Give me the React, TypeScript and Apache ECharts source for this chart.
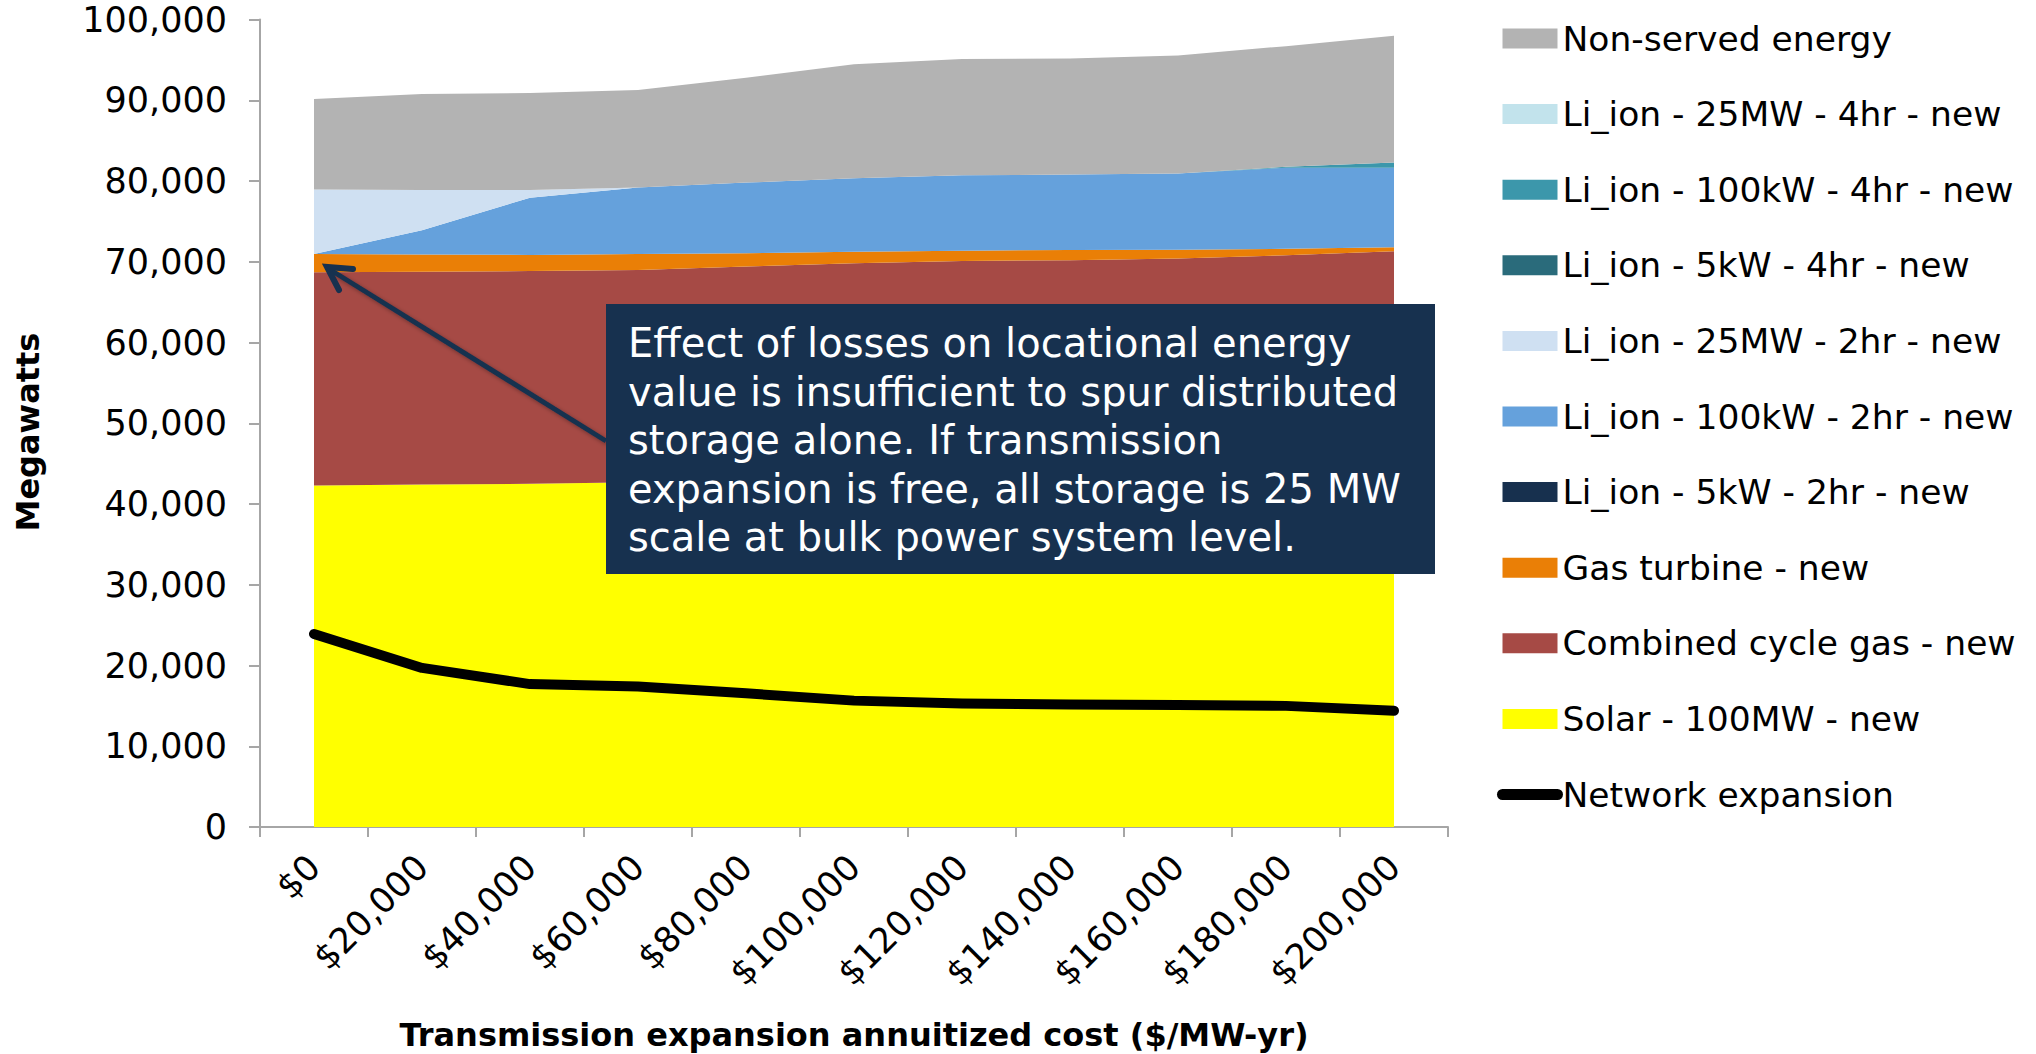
import React, { useEffect, useRef } from "react";
import * as echarts from "echarts";

const categories = ["$0", "$20,000", "$40,000", "$60,000", "$80,000", "$100,000", "$120,000", "$140,000", "$160,000", "$180,000", "$200,000"];
const yTicks = [0, 10000, 20000, 30000, 40000, 50000, 60000, 70000, 80000, 90000, 100000];

const solar = [42300, 42400, 42500, 42700, 43000, 43200, 43400, 43500, 43600, 43800, 44000];
const combinedCycle = [26400, 26370, 26350, 26280, 26400, 26600, 26700, 26700, 26800, 27000, 27300];
const gasTurbine = [2260, 2130, 2000, 1980, 1640, 1450, 1270, 1250, 1100, 800, 500];
const liIon5kW2hr = [0, 0, 0, 0, 0, 0, 0, 0, 0, 0, 0];
const liIon100kW2hr = [0, 3000, 7080, 8240, 8760, 9080, 9330, 9350, 9440, 10040, 9840];
const liIon25MW2hr = [7990, 5000, 970, 0, 0, 0, 0, 0, 0, 0, 0];
const liIon5kW4hr = [0, 0, 0, 0, 0, 0, 0, 0, 0, 0, 0];
const liIon100kW4hr = [0, 0, 0, 0, 0, 0, 0, 0, 0, 120, 660];
const liIon25MW4hr = [0, 0, 0, 0, 0, 0, 0, 0, 0, 0, 0];
const nonServed = [11200, 11870, 12000, 12070, 13000, 14120, 14400, 14370, 14610, 14940, 15700];
const networkExpansion = [23900, 19700, 17700, 17400, 16550, 15650, 15300, 15170, 15100, 15000, 14400];

const FONT = "DejaVu Sans";
const NAVY = "#17314f";

const stackSeries = [
  { name: "Solar - 100MW - new", data: solar, color: "#ffff00" },
  { name: "Combined cycle gas - new", data: combinedCycle, color: "#a64a45" },
  { name: "Gas turbine - new", data: gasTurbine, color: "#ea7f06" },
  { name: "Li_ion - 5kW - 2hr - new", data: liIon5kW2hr, color: "#17304e" },
  { name: "Li_ion - 100kW - 2hr - new", data: liIon100kW2hr, color: "#65a1dc" },
  { name: "Li_ion - 25MW - 2hr - new", data: liIon25MW2hr, color: "#cfe0f2" },
  { name: "Li_ion - 5kW - 4hr - new", data: liIon5kW4hr, color: "#2a6b7b" },
  { name: "Li_ion - 100kW - 4hr - new", data: liIon100kW4hr, color: "#3c97ab" },
  { name: "Li_ion - 25MW - 4hr - new", data: liIon25MW4hr, color: "#c2e3ec" },
  { name: "Non-served energy", data: nonServed, color: "#b3b3b3" },
];

const legendOrder = [
  "Non-served energy",
  "Li_ion - 25MW - 4hr - new",
  "Li_ion - 100kW - 4hr - new",
  "Li_ion - 5kW - 4hr - new",
  "Li_ion - 25MW - 2hr - new",
  "Li_ion - 100kW - 2hr - new",
  "Li_ion - 5kW - 2hr - new",
  "Gas turbine - new",
  "Combined cycle gas - new",
  "Solar - 100MW - new",
];

const annotationLines = [
  "Effect of losses on locational energy",
  "value is insufficient to spur distributed",
  "storage alone. If transmission",
  "expansion is free, all storage is 25 MW",
  "scale at bulk power system level.",
];

export default function App() {
  const ref = useRef<HTMLDivElement>(null);
  useEffect(() => {
    if (!ref.current) return;
    const chart = echarts.init(ref.current, null, { renderer: "svg" });
    const series: any[] = stackSeries.map((s) => ({
      name: s.name,
      type: "line",
      stack: "total",
      data: s.data,
      symbol: "none",
      showSymbol: false,
      lineStyle: { width: 0 },
      areaStyle: { color: s.color, opacity: 1 },
      itemStyle: { color: s.color },
      z: 2,
    }));
    series.push({
      name: "Network expansion",
      type: "line",
      data: networkExpansion,
      symbol: "none",
      showSymbol: false,
      lineStyle: { color: "#000", width: 10, cap: "round", join: "round" },
      itemStyle: { color: "#000" },
      z: 5,
    });
    const textGraphics = annotationLines.map((line, i) => ({
      type: "text",
      z: 102,
      x: 628,
      y: 343 + i * 48.5,
      style: {
        text: line,
        fill: "#fff",
        fontFamily: FONT,
        fontSize: 40,
        textAlign: "left",
        textVerticalAlign: "middle",
      },
    }));
    chart.setOption({
      animation: false,
      grid: { left: 260, right: 588, top: 19.5, bottom: 227, containLabel: false },
      xAxis: {
        type: "category",
        data: categories,
        boundaryGap: true,
        axisLine: { show: true, lineStyle: { color: "#a6a6a6", width: 2 } },
        axisTick: { show: true, length: 10, lineStyle: { color: "#a6a6a6", width: 2 } },
        axisLabel: { rotate: 45, margin: 34, fontSize: 35, fontFamily: FONT, color: "#000", interval: 0 },
        splitLine: { show: false },
      },
      yAxis: {
        type: "value",
        min: yTicks[0],
        max: yTicks[yTicks.length - 1],
        interval: yTicks[1] - yTicks[0],
        axisLine: { show: true, lineStyle: { color: "#a6a6a6", width: 2 } },
        axisTick: { show: true, length: 11, lineStyle: { color: "#a6a6a6", width: 2 } },
        axisLabel: {
          margin: 33,
          fontSize: 35,
          fontFamily: FONT,
          color: "#000",
          formatter: (v: number) => v.toLocaleString("en-US"),
        },
        splitLine: { show: false },
      },
      legend: {
        orient: "vertical",
        left: 1497,
        top: 21,
        padding: 0,
        itemWidth: 55,
        itemHeight: 20,
        itemGap: 40.6,
        selectedMode: false,
        textStyle: { fontFamily: FONT, fontSize: 34.5, color: "#000" },
        lineStyle: { width: 11, cap: "round" },
        data: [
          ...legendOrder.map((n) => ({ name: n, icon: "rect" })),
          { name: "Network expansion", itemStyle: { opacity: 0 } },
        ],
      },
      series,
      graphic: [
        {
          type: "line",
          z: 100,
          shape: { x1: 606, y1: 441, x2: 329, y2: 269 },
          style: { stroke: NAVY, lineWidth: 5, shadowBlur: 4, shadowColor: "rgba(0,0,0,0.35)", shadowOffsetX: 2, shadowOffsetY: 2 },
        },
        {
          type: "polyline",
          z: 100,
          shape: { points: [[353, 269], [327, 267], [339, 290]] },
          style: { stroke: NAVY, lineWidth: 6, fill: null, lineJoin: "miter", lineCap: "round" },
        },
        {
          type: "rect",
          z: 101,
          shape: { x: 606, y: 304, width: 829, height: 270 },
          style: { fill: NAVY },
        },
        ...textGraphics,
        {
          type: "text",
          z: 100,
          x: 854,
          y: 1035,
          style: {
            text: "Transmission expansion annuitized cost ($/MW-yr)",
            fill: "#000",
            fontFamily: FONT,
            fontWeight: "bold",
            fontSize: 32,
            textAlign: "center",
            textVerticalAlign: "middle",
          },
        },
        {
          type: "text",
          z: 100,
          x: 28,
          y: 432,
          rotation: Math.PI / 2,
          style: {
            text: "Megawatts",
            fill: "#000",
            fontFamily: FONT,
            fontWeight: "bold",
            fontSize: 32,
            textAlign: "center",
            textVerticalAlign: "middle",
          },
        },
      ],
    });
    return () => chart.dispose();
  }, []);
  return <div ref={ref} style={{ position: "fixed", left: 0, top: 0, width: 2036, height: 1054, background: "#fff" }} />;
}
